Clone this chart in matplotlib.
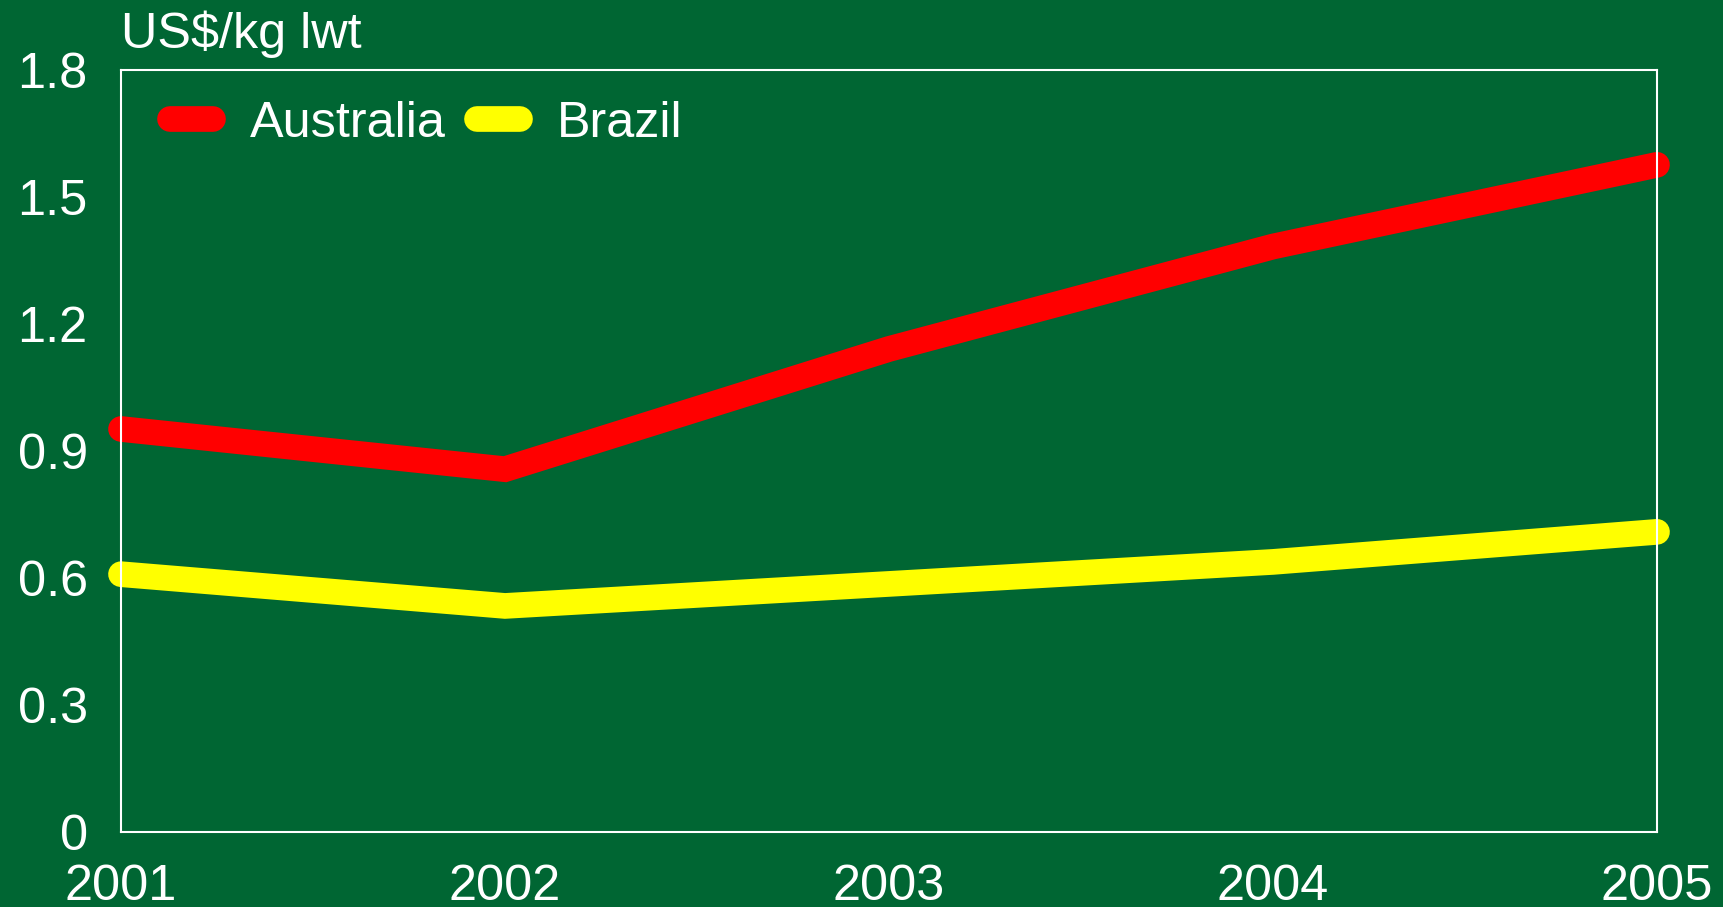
import matplotlib
matplotlib.use("Agg")
import matplotlib.pyplot as plt

years = ["2001", "2002", "2003", "2004", "2005"]
australia = [0.952, 0.857, 1.141, 1.383, 1.576]
brazil = [0.609, 0.534, 0.586, 0.638, 0.709]
yticks = [0, 0.3, 0.6, 0.9, 1.2, 1.5, 1.8]
ytick_labels = ["0", "0.3", "0.6", "0.9", "1.2", "1.5", "1.8"]
ylabel = "US$/kg lwt"

BG = "#006633"
FS = 36.3
plt.rcParams["font.family"] = ["Liberation Sans", "DejaVu Sans"]

W, H = 1724, 907
fig = plt.figure(figsize=(W / 100, H / 100), dpi=100, facecolor=BG)
ax = fig.add_axes([121 / W, (H - 832) / H, (1657 - 121) / W, (832 - 70) / H])
ax.set_facecolor(BG)

x = list(range(len(years)))
ax.plot(x, australia, color="#FF0000", lw=18.5, solid_capstyle="round",
        solid_joinstyle="miter", clip_on=False, label="Australia", zorder=3)
ax.plot(x, brazil, color="#FFFF00", lw=18.5, solid_capstyle="round",
        solid_joinstyle="miter", clip_on=False, label="Brazil", zorder=3)

ax.set_xlim(0, len(years) - 1)
ax.set_ylim(0, 1.8)
ax.set_xticks(x)
ax.set_xticklabels(years)
ax.set_yticks(yticks)
ax.set_yticklabels(ytick_labels)
ax.tick_params(axis="both", length=0, colors="white", labelsize=FS)
ax.tick_params(axis="x", pad=23)
ax.tick_params(axis="y", pad=24)
for s in ax.spines.values():
    s.set_color("white")
    s.set_linewidth(1.5)
    s.set_zorder(4)

fig.text(121 / W, 1 - 48 / H, ylabel, color="white", fontsize=FS,
         ha="left", va="baseline")

leg = ax.legend(loc="center left", bbox_to_anchor=(170 / W, 1 - 124 / H),
                bbox_transform=fig.transFigure, ncol=2, frameon=False,
                fontsize=FS, handlelength=0.855, handletextpad=0.73,
                columnspacing=0.62, borderpad=0, borderaxespad=0)
for t in leg.get_texts():
    t.set_color("white")

fig.savefig("out.png", dpi=100, facecolor=BG)
